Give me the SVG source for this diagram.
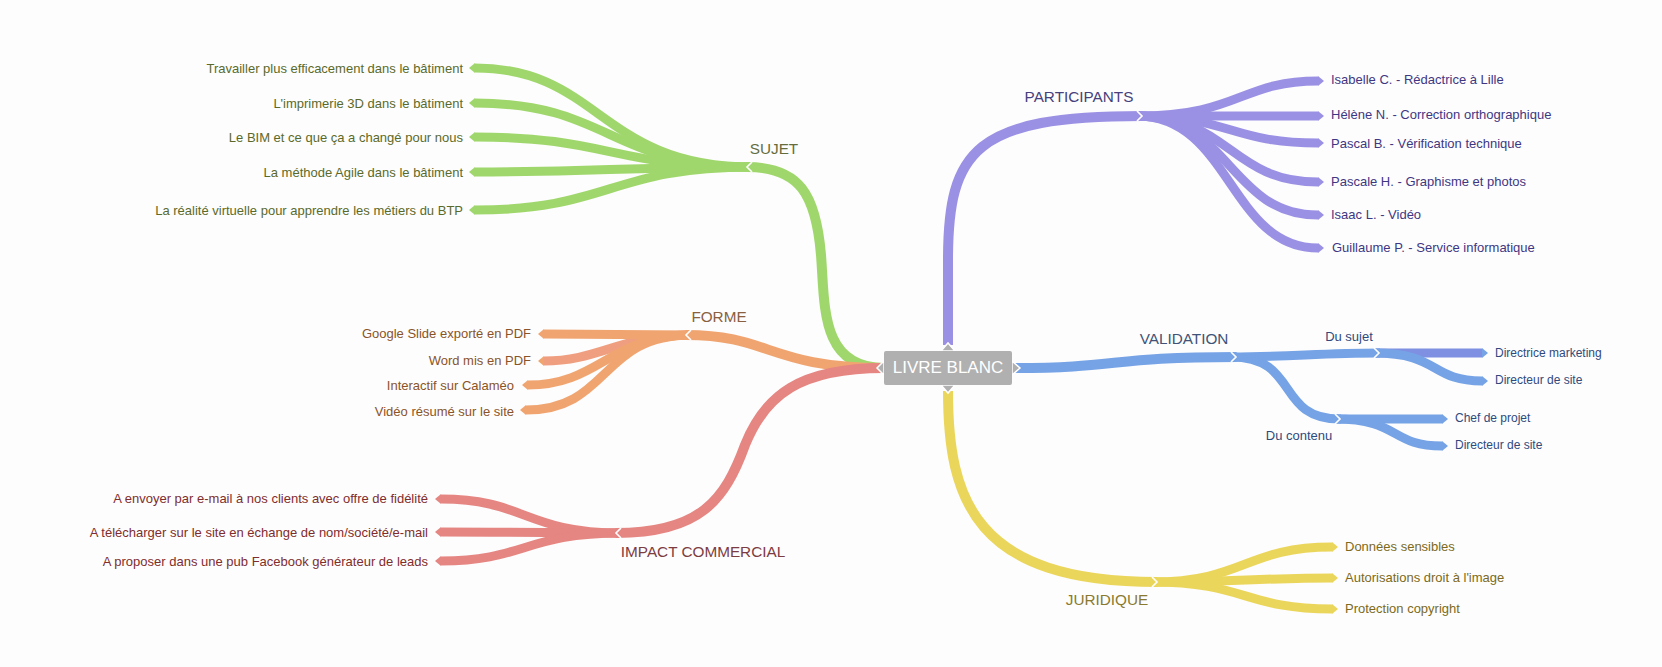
<svg xmlns="http://www.w3.org/2000/svg" width="1662" height="667" viewBox="0 0 1662 667">
<style>
text{font-family:"Liberation Sans",Arial,sans-serif;font-size:13px}
.m{font-size:15.3px}
.e{text-anchor:end}
.c{text-anchor:middle}
path{fill:none;stroke-linecap:butt}
.w{stroke-width:10}
.n{stroke-width:9}
.pu{stroke:#9b91e4;marker-end:url(#tpu)}.bl{stroke:#76a3e6;marker-end:url(#tbl)}.gr{stroke:#a0d76d;marker-end:url(#tgr)}
.or{stroke:#f0a571;marker-end:url(#tor)}.re{stroke:#e58682;marker-end:url(#tre)}.ye{stroke:#ebd65c;marker-end:url(#tye)}
.chev{fill:none;stroke:#fff;stroke-width:1.6}
.tpu{fill:#3f3783}.tbl{fill:#2f4a7e}.tgr{fill:#5b6a2a}.tor{fill:#8a5428}.tre{fill:#7f2d2d}.tye{fill:#7c6a20}
.m.tpu{fill:#46417c}.m.tbl{fill:#3f5478}.m.tgr{fill:#666d3d}.m.tor{fill:#8a6040}.m.tre{fill:#7c3c42}.m.tye{fill:#8a7a30}
</style>
<defs>
<marker id="tpu" markerUnits="userSpaceOnUse" markerWidth="8" markerHeight="14" refX="0" refY="7" orient="auto"><path d="M0 2L6 7L0 12Z" style="fill:#9b91e4;stroke:none"/></marker>
<marker id="tbl" markerUnits="userSpaceOnUse" markerWidth="8" markerHeight="14" refX="0" refY="7" orient="auto"><path d="M0 2L6 7L0 12Z" style="fill:#76a3e6;stroke:none"/></marker>
<marker id="tgr" markerUnits="userSpaceOnUse" markerWidth="8" markerHeight="14" refX="0" refY="7" orient="auto"><path d="M0 2L6 7L0 12Z" style="fill:#a0d76d;stroke:none"/></marker>
<marker id="tor" markerUnits="userSpaceOnUse" markerWidth="8" markerHeight="14" refX="0" refY="7" orient="auto"><path d="M0 2L6 7L0 12Z" style="fill:#f0a571;stroke:none"/></marker>
<marker id="tre" markerUnits="userSpaceOnUse" markerWidth="8" markerHeight="14" refX="0" refY="7" orient="auto"><path d="M0 2L6 7L0 12Z" style="fill:#e58682;stroke:none"/></marker>
<marker id="tye" markerUnits="userSpaceOnUse" markerWidth="8" markerHeight="14" refX="0" refY="7" orient="auto"><path d="M0 2L6 7L0 12Z" style="fill:#ebd65c;stroke:none"/></marker>
</defs>
<rect width="1662" height="667" fill="#fdfdfd"/>
<g id="connectors">
<path class="gr w" d="M884 368C820 368 825 305 821 255C816 195 800 167 747 167"/>
<path class="gr n" d="M752 167C600 167 600 68 475 68"/>
<path class="gr n" d="M752 167C610 167 610 103 475 103"/>
<path class="gr n" d="M752 167C610 167 610 137 475 137"/>
<path class="gr n" d="M752 167C610 167 610 172 475 172"/>
<path class="gr n" d="M752 167C610 167 610 210 475 210"/>
<path class="or w" d="M884 368C770 368 770 335 686 335"/>
<path style="stroke:#ef9f80;marker-end:url(#tor)" class="n" d="M691 335C620 335 600 361 544 361"/>
<path class="or n" d="M691 335C610 335 600 385 528 385"/>
<path class="or n" d="M691 335C600 335 610 410 526 410"/>
<path class="or n" d="M691 335C640 335 590 334 544 334"/>
<path class="re w" d="M884 368C800 368 765 395 745 445C725 500 700 533 616 533"/>
<path class="re n" d="M621 533C525 533 525 499 441 499"/>
<path class="re n" d="M621 533C550 533 500 532 441 532"/>
<path class="re n" d="M621 533C525 533 525 561 441 561"/>
<path class="pu w" d="M948 345L948 260C948 150 975 116 1142 116"/>
<path class="pu n" d="M1137 116C1240 116 1240 81 1318 81"/>
<path class="pu n" d="M1137 116C1200 116 1250 116 1318 116"/>
<path class="pu n" d="M1137 116C1230 116 1230 143 1318 143"/>
<path class="pu n" d="M1137 116C1230 116 1230 182 1318 182"/>
<path class="pu n" d="M1137 116C1230 116 1230 215 1318 215"/>
<path class="pu n" d="M1137 116C1230 116 1230 248 1318 248"/>
<path class="bl w" d="M1012 368C1120 368 1110 357 1236 357"/>
<path class="bl n" d="M1231 357C1290 357 1320 353 1379 353"/>
<path class="bl n" d="M1231 357C1300 357 1275 419 1340 419"/>
<path style="stroke:#7f90e2;marker-end:url(#tbl)" class="n" d="M1374 353C1410 353 1450 353 1482 353"/>
<path class="bl n" d="M1374 353C1440 353 1430 381 1482 381"/>
<path class="bl n" d="M1335 419C1380 419 1410 419 1442 419"/>
<path class="bl n" d="M1335 419C1400 419 1390 446 1442 446"/>
<path class="ye w" d="M948 391C948 500 975 582 1157 582"/>
<path class="ye n" d="M1152 582C1245 582 1245 547 1332 547"/>
<path class="ye n" d="M1152 582C1220 582 1270 578 1332 578"/>
<path class="ye n" d="M1152 582C1245 582 1245 609 1332 609"/>
<polyline class="chev" points="752,162 747,167 752,172"/>
<polyline class="chev" points="691,330 686,335 691,340"/>
<polyline class="chev" points="621,528 616,533 621,538"/>
<polyline class="chev" points="1137,111 1142,116 1137,121"/>
<polyline class="chev" points="1231,352 1236,357 1231,362"/>
<polyline class="chev" points="1374,348 1379,353 1374,358"/>
<polyline class="chev" points="1335,414 1340,419 1335,424"/>
<polyline class="chev" points="1152,577 1157,582 1152,587"/>
</g>
<g id="center">
<path d="M884 361L877 368L884 375ZM1012 361L1020 368L1012 375ZM941 351L948 343L955 351ZM941 385L948 393L955 385Z" style="fill:#b0b0b0;stroke:#fff;stroke-width:1.5"/>
<rect x="884" y="351" width="128" height="34" rx="2" fill="#b0b0b0"/>
<text x="948" y="373" class="c" style="font-size:17px" fill="#fff">LIVRE BLANC</text>
</g>
<g id="participants"><text x="1079" y="102" class="m c tpu">PARTICIPANTS</text></g>
<g id="p1"><text x="1331" y="84" class="tpu">Isabelle C. - Rédactrice à Lille</text></g>
<g id="p2"><text x="1331" y="119" class="tpu">Hélène N. - Correction orthographique</text></g>
<g id="p3"><text x="1331" y="148" class="tpu">Pascal B. - Vérification technique</text></g>
<g id="p4"><text x="1331" y="186" class="tpu">Pascale H. - Graphisme et photos</text></g>
<g id="p5"><text x="1331" y="219" class="tpu">Isaac L. - Vidéo</text></g>
<g id="p6"><text x="1332" y="252" class="tpu">Guillaume P. - Service informatique</text></g>
<g id="validation"><text x="1184" y="344" class="m c tbl">VALIDATION</text></g>
<g id="v1"><text x="1349" y="341" class="c tbl">Du sujet</text></g>
<g id="v2"><text x="1299" y="440" class="c tbl">Du contenu</text></g>
<g id="v3"><text x="1495" y="357" style="font-size:12px" class="tbl">Directrice marketing</text></g>
<g id="v4"><text x="1495" y="384" style="font-size:12px" class="tbl">Directeur de site</text></g>
<g id="v5"><text x="1455" y="422" style="font-size:12px" class="tbl">Chef de projet</text></g>
<g id="v6"><text x="1455" y="449" style="font-size:12px" class="tbl">Directeur de site</text></g>
<g id="juridique"><text x="1107" y="605" class="m c tye">JURIDIQUE</text></g>
<g id="j1"><text x="1345" y="551" class="tye">Données sensibles</text></g>
<g id="j2"><text x="1345" y="582" class="tye">Autorisations droit à l'image</text></g>
<g id="j3"><text x="1345" y="613" class="tye">Protection copyright</text></g>
<g id="sujet"><text x="774" y="154" class="m c tgr">SUJET</text></g>
<g id="s1"><text x="463" y="73" class="e tgr">Travailler plus efficacement dans le bâtiment</text></g>
<g id="s2"><text x="463" y="108" class="e tgr">L'imprimerie 3D dans le bâtiment</text></g>
<g id="s3"><text x="463" y="142" class="e tgr">Le BIM et ce que ça a changé pour nous</text></g>
<g id="s4"><text x="463" y="177" class="e tgr">La méthode Agile dans le bâtiment</text></g>
<g id="s5"><text x="463" y="215" class="e tgr">La réalité virtuelle pour apprendre les métiers du BTP</text></g>
<g id="forme"><text x="719" y="322" class="m c tor">FORME</text></g>
<g id="f1"><text x="531" y="338" class="e tor">Google Slide exporté en PDF</text></g>
<g id="f2"><text x="531" y="365" class="e tor">Word mis en PDF</text></g>
<g id="f3"><text x="514" y="390" class="e tor">Interactif sur Calaméo</text></g>
<g id="f4"><text x="514" y="416" class="e tor">Vidéo résumé sur le site</text></g>
<g id="impact"><text x="703" y="557" class="m c tre">IMPACT COMMERCIAL</text></g>
<g id="i1"><text x="428" y="503" class="e tre">A envoyer par e-mail à nos clients avec offre de fidélité</text></g>
<g id="i2"><text x="428" y="537" class="e tre">A télécharger sur le site en échange de nom/société/e-mail</text></g>
<g id="i3"><text x="428" y="566" class="e tre">A proposer dans une pub Facebook générateur de leads</text></g>
</svg>
